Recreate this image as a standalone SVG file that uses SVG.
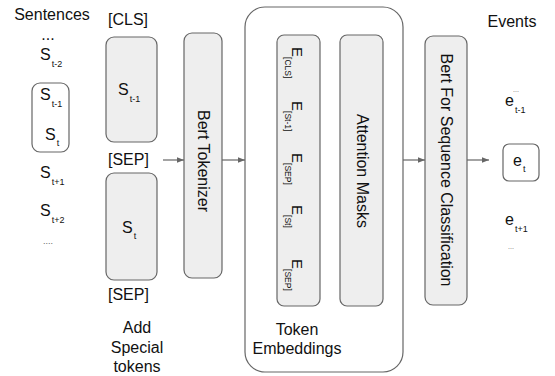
<svg xmlns="http://www.w3.org/2000/svg" width="555" height="376" viewBox="0 0 555 376">
<defs>
<style>
text{font-family:"Liberation Sans",Arial,sans-serif;fill:#111;}
.t16{font-size:16px;}
.t15{font-size:15px;}
.sub{font-size:9px;}
.sub8{font-size:8.5px;}
.mid{text-anchor:middle;}
.box{fill:#eeeeee;stroke:#666;stroke-width:1.2;}
.plain{fill:#fff;stroke:#666;stroke-width:1.2;}
.conn{stroke:#666;stroke-width:1.2;fill:none;marker-end:url(#ah);}
.dots{font-size:9px;fill:#666;}
</style>
<marker id="ah" viewBox="0 0 10 10" refX="10" refY="5" markerWidth="7" markerHeight="7" markerUnits="userSpaceOnUse" orient="auto">
<path d="M0,1 L10,5 L0,9 z" fill="#666"/>
</marker>
</defs>

<g id="sentences">
<text class="t16 mid" x="52" y="20">Sentences</text>
<text class="t16 mid" x="48" y="40">...</text>
<text class="t16" x="40" y="60">S<tspan class="sub" dx="1" dy="7">t-2</tspan></text>
<rect class="plain" x="32" y="83" width="37" height="69" rx="8"/>
<text class="t16" x="40" y="100">S<tspan class="sub" dx="1" dy="7">t-1</tspan></text>
<text class="t16" x="45" y="140">S<tspan class="sub" dx="1" dy="6">t</tspan></text>
<text class="t16" x="40" y="178">S<tspan class="sub" dx="1" dy="7">t+1</tspan></text>
<text class="t16" x="40" y="216">S<tspan class="sub" dx="1" dy="7">t+2</tspan></text>
<text class="dots mid" x="48" y="244">....</text>
</g>

<g id="special-tokens">
<text class="t16" x="108" y="25">[CLS]</text>
<rect class="box" x="106" y="37" width="51" height="105" rx="8"/>
<text class="t16" x="118" y="95">S<tspan class="sub" dx="1" dy="7">t-1</tspan></text>
<text class="t16" x="108" y="165">[SEP]</text>
<rect class="box" x="106" y="173" width="51" height="107" rx="8"/>
<text class="t16" x="122" y="233">S<tspan class="sub" dx="1" dy="6">t</tspan></text>
<text class="t16" x="108" y="300">[SEP]</text>
<text class="t16 mid" x="137" y="333">Add</text>
<text class="t16 mid" x="137" y="353">Special</text>
<text class="t16 mid" x="137" y="372">tokens</text>
</g>

<g id="bert-tokenizer">
<rect class="box" x="184" y="33" width="38" height="245" rx="8"/>
<text class="t16 mid" transform="translate(203,161) rotate(90)" dominant-baseline="central">Bert Tokenizer</text>
</g>

<g id="token-embeddings">
<rect class="plain" x="245" y="7" width="158" height="365" rx="20"/>
<text class="t16 mid" x="297" y="335">Token</text>
<text class="t16 mid" x="297" y="354">Embeddings</text>
</g>

<g id="embeddings">
<rect class="box" x="277" y="35" width="43" height="271" rx="7"/>
<text class="t15" transform="translate(292,47) rotate(90)">E<tspan class="sub8" dy="7">[CLS]</tspan></text>
<text class="t15" transform="translate(292,101) rotate(90)">E<tspan class="sub8" dy="7">[St-1]</tspan></text>
<text class="t15" transform="translate(292,153) rotate(90)">E<tspan class="sub8" dy="7">[SEP]</tspan></text>
<text class="t15" transform="translate(292,205) rotate(90)">E<tspan class="sub8" dy="7">[St]</tspan></text>
<text class="t15" transform="translate(292,259) rotate(90)">E<tspan class="sub8" dy="7">[SEP]</tspan></text>
</g>

<g id="attention-masks">
<rect class="box" x="340" y="35" width="43" height="271" rx="7"/>
<text class="t16 mid" transform="translate(362,171) rotate(90)" dominant-baseline="central">Attention Masks</text>
</g>

<g id="bert-classifier">
<rect class="box" x="425" y="36" width="42" height="269" rx="8"/>
<text class="t16 mid" transform="translate(446,170) rotate(90)" dominant-baseline="central">Bert For Sequence Classification</text>
</g>

<g id="events">
<text class="t16 mid" x="512" y="27">Events</text>
<text class="dots" x="513" y="92" style="font-size:7px">...</text>
<text class="t16" x="505" y="106">e<tspan class="sub" dx="1" dy="7">t-1</tspan></text>
<rect class="plain" x="503" y="144" width="36" height="37" rx="6"/>
<text class="t16" x="513" y="166">e<tspan class="sub" dx="1" dy="6">t</tspan></text>
<text class="t16" x="505" y="225">e<tspan class="sub" dx="1" dy="7">t+1</tspan></text>
<text class="dots" x="508" y="249" style="font-size:7px">...</text>
</g>

<g id="connectors">
<line class="conn" x1="163" y1="160" x2="184" y2="160"/>
<line class="conn" x1="222" y1="160" x2="245" y2="160"/>
<line class="conn" x1="403" y1="160" x2="425" y2="160"/>
<line class="conn" x1="467" y1="160" x2="489" y2="160"/>
</g>
</svg>
